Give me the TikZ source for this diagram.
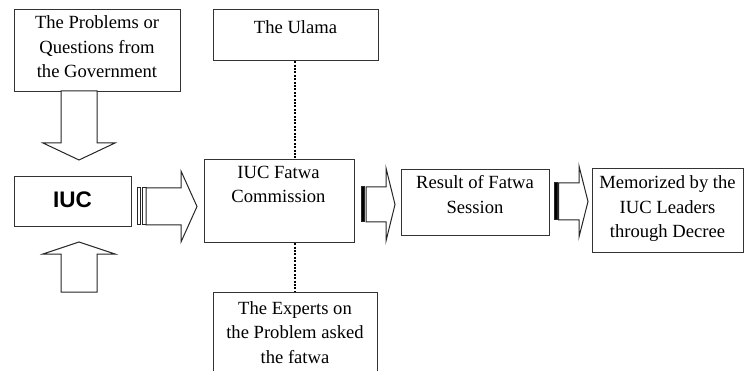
\documentclass[tikz,border=0pt]{standalone}
\usepackage{fontspec}
\setmainfont{Liberation Serif}
\newfontfamily\arialfont{Liberation Sans}
\begin{document}
\begin{tikzpicture}[x=1pt,y=-1pt,
  box/.style={draw=black!80,line width=1.2pt,inner sep=0pt,anchor=north west},
  txt/.style={inner sep=0pt,anchor=north,align=center,font=\fontsize{18.6}{24.5}\selectfont,execute at begin node=\strut},
  fat/.style={draw=black!85,line width=1pt,fill=white,line join=miter},
  bar/.style={draw=black!85,line width=1pt,fill=black},
  dots/.style={line width=2.2pt,dash pattern=on 2pt off 1.4pt}]
\useasboundingbox (0,0) rectangle (746,371);
\clip (0,0) rectangle (746,371);
% boxes
\node[box,minimum width=166pt,minimum height=82pt] (prob) at (14,9) {};
\node[box,minimum width=117pt,minimum height=50pt] (iuc) at (14,176) {};
\node[box,minimum width=150pt,minimum height=83pt] (comm) at (204,159) {};
\node[box,minimum width=165pt,minimum height=51pt] (ulama) at (213,9) {};
\node[box,minimum width=164pt,minimum height=100pt] (exp) at (213,292) {};
\node[box,minimum width=148pt,minimum height=66pt] (res) at (401,169) {};
\node[box,minimum width=151pt,minimum height=84pt] (memo) at (592,168) {};
% texts
\node[txt] (probt) at (97,15.8) {The Problems or\\Questions from\\the Government};
\node[inner sep=0pt,anchor=base,font=\arialfont\bfseries\fontsize{22.5}{26}\selectfont] (iuct) at (72.5,208) {IUC};
\node[txt] (commt) at (278.5,165.5) {IUC Fatwa\\Commission};
\node[txt] (ulamat) at (295.5,15.8) {The Ulama};
\node[txt] (expt) at (295,300.9) {The Experts on\\the Problem asked\\the fatwa};
\node[txt] (rest) at (475,175.5) {Result of Fatwa\\Session};
\node[txt] (memot) at (667.5,175.5) {Memorized by the\\IUC Leaders\\through Decree};
% dotted connectors
\draw[dots] (ulama.south -| 295,0) -- (comm.north -| 295,0);
\draw[dots] (comm.south -| 295,0) -- (exp.north -| 295,0);
% down arrow
\draw[fat] (61,91) -- (61,143) -- (43,143) -- (79,160) -- (115,143) -- (97,143) -- (97,91) -- cycle;
% up arrow
\draw[fat] (61,292) -- (61,254) -- (43,254) -- (79,242) -- (115,254) -- (97,254) -- (97,292) -- cycle;
% right arrow 1 (striped)
\draw[fat] (137,188) rectangle (140.5,225);
\draw[fat] (142.5,188) rectangle (146,225);
\draw[fat] (146,188) -- (181,188) -- (181,171) -- (197,206.5) -- (181,242) -- (181,225) -- (146,225) -- cycle;
% right arrow 2
\draw[bar] (361,187) rectangle (364,222);
\draw[fat] (366,187) -- (386,187) -- (386,168) -- (395,204.5) -- (386,241) -- (386,222) -- (366,222) -- cycle;
% right arrow 3
\draw[bar] (554,183) rectangle (557,220);
\draw[fat] (558.5,183) -- (579,183) -- (579,166) -- (588,201.5) -- (579,237) -- (579,220) -- (558.5,220) -- cycle;
\end{tikzpicture}
\end{document}
